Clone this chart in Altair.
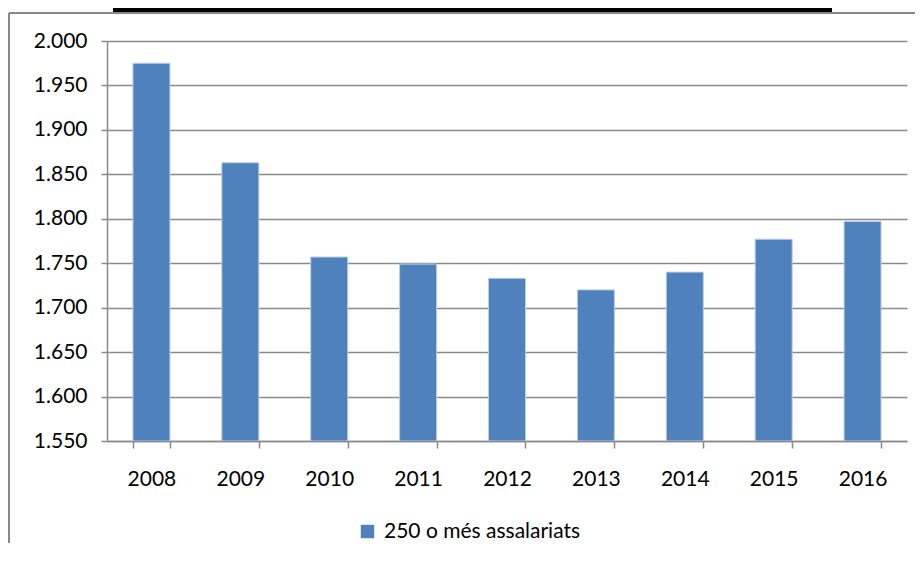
import altair as alt
import pandas as pd

years = ["2008", "2009", "2010", "2011", "2012", "2013", "2014", "2015", "2016"]
values = [1975, 1863, 1757, 1749, 1733, 1720, 1740, 1777, 1797]
series = "250 o més assalariats"
y_ticks = [1550, 1600, 1650, 1700, 1750, 1800, 1850, 1900, 1950, 2000]
y_min, y_max = 1550, 2000

df = pd.DataFrame({"year": years, "value": values, "series": [series] * len(years)})

FONT = "Lato"
GRID = "#8a8a8a"

bars = alt.Chart(df).mark_bar(stroke="#b9cde5", strokeWidth=1, clip=True).encode(
    x=alt.X("year:N", title=None,
            scale=alt.Scale(paddingInner=0.584, paddingOuter=0.292),
            axis=alt.Axis(labelAngle=0, tickBand="extent", ticks=True, tickSize=7, grid=False,
                          tickColor=GRID, tickWidth=1.5, domainColor=GRID, domainWidth=1.5,
                          labelPadding=20, labelFontSize=21, labelFont=FONT, labelColor="#000")),
    y=alt.Y("value:Q", title=None,
            scale=alt.Scale(domain=[y_min, y_max], nice=False, zero=False),
            axis=alt.Axis(values=y_ticks, grid=True, gridColor=GRID, gridWidth=1.5,
                          tickSize=6, tickColor=GRID, tickWidth=1.5, domainColor=GRID, domainWidth=1.5,
                          labelPadding=14, labelFontSize=21, labelFont=FONT, labelColor="#000",
                          labelExpr="replace(format(datum.value, ',.0f'), ',', '.')")),
    y2=alt.datum(y_min),
    color=alt.Color("series:N", scale=alt.Scale(range=["#4f81bd"]),
                    legend=alt.Legend(title=None, orient="none", legendX=250, legendY=480,
                                      symbolType="square", symbolSize=180, symbolStrokeWidth=0,
                                      labelFont=FONT, labelFontSize=21, labelColor="#000",
                                      labelOffset=6, labelLimit=0)),
)

frame_top = alt.Chart(df).mark_rule(color="#888888", strokeWidth=2, clip=False).encode(
    x=alt.value(-98), x2=alt.value(830), y=alt.value(-28)
)
frame_left = alt.Chart(df).mark_rule(color="#888888", strokeWidth=2, clip=False).encode(
    x=alt.value(-98), y=alt.value(-28), y2=alt.value(520)
)

title_line = alt.Chart(df).mark_rule(color="#000", strokeWidth=3, clip=False).encode(
    x=alt.value(6), x2=alt.value(725), y=alt.value(-31)
)

chart = alt.layer(frame_top, frame_left, title_line, bars).properties(
    width=800, height=400,
    background="white",
    autosize=alt.AutoSizeParams(type="none"),
    padding={"left": 99, "top": 33, "right": 8, "bottom": 102},
).configure_view(stroke="transparent", strokeWidth=0)

chart.save("out.html", embed_options={"renderer": "svg", "actions": False})
